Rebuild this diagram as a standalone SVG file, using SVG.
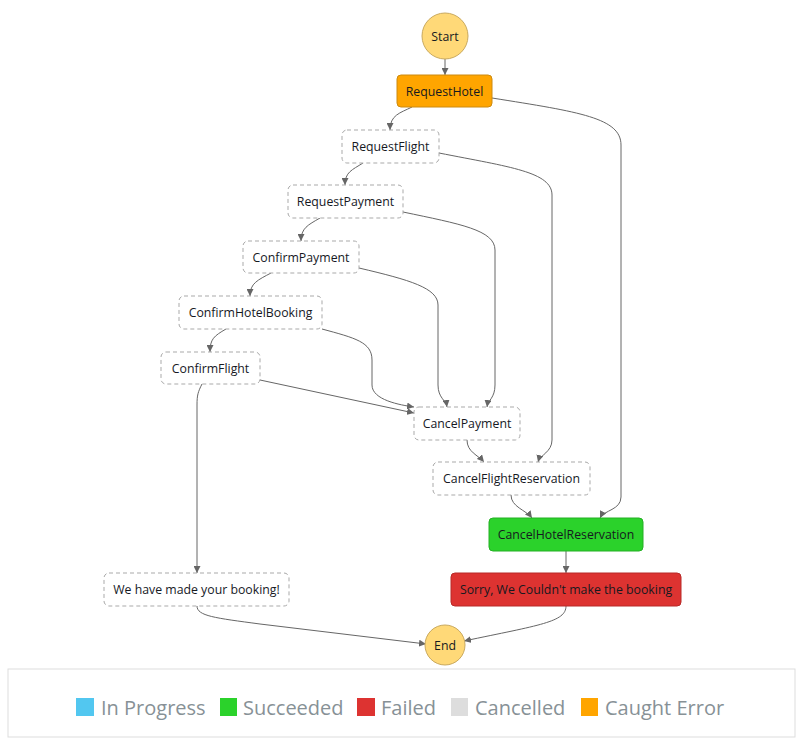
<svg xmlns="http://www.w3.org/2000/svg" width="806" height="749" viewBox="0 0 806 749">
  <style>
    .lbl { font-family: "Open Sans", "Noto Sans", sans-serif; font-size: 12.3px; fill: #16191f; text-anchor: middle; dominant-baseline: central; }
    .term { fill: #ffd978; stroke: #c9a95e; stroke-width: 1; }
    .task { fill: #ffffff; stroke: #a9a9a9; stroke-width: 1; stroke-dasharray: 4 3; }
    .caught { fill: #ffa500; stroke: #cc8a10; stroke-width: 1; }
    .ok { fill: #2bd22b; stroke: #25b025; stroke-width: 1; }
    .fail { fill: #dd3331; stroke: #b82a28; stroke-width: 1; }
    .edge { fill: none; stroke: #666666; stroke-width: 1; marker-end: url(#arrow); }
    .legend-text { font-family: "Open Sans", "Noto Sans", sans-serif; font-size: 20px; fill: #879196; }
  </style>
  <defs>
    <marker id="arrow" viewBox="0 0 10 10" refX="10" refY="5" markerWidth="7" markerHeight="7" markerUnits="userSpaceOnUse" orient="auto">
      <path d="M0,0 L10,5 L0,10 z" fill="#666666"/>
    </marker>
  </defs>

  <rect width="806" height="749" fill="#ffffff"/>

  <!-- transitions -->
  <g id="connectors">
    <path class="edge" d="M445,59 L445,75"/>
    <path class="edge" d="M412,107 C400,113 390,115 390,130"/>
    <path class="edge" d="M492,98 C580,112 621,118 621,145 L621,497 C621,510 604,510 600,518"/>
    <path class="edge" d="M363,163 C352,170 345,172 345,185"/>
    <path class="edge" d="M439,153 C510,167 552,172 552,195 L552,440 C552,452 540,455 538,462"/>
    <path class="edge" d="M320,218 C308,225 301,228 301,241"/>
    <path class="edge" d="M403,212 C460,224 495,230 495,250 L495,385 C495,398 488,400 487,407"/>
    <path class="edge" d="M271,273 C258,280 250,283 250,296"/>
    <path class="edge" d="M359,268 C410,280 438,288 438,305 L438,385 C438,398 446,400 447,407"/>
    <path class="edge" d="M226,329 C214,336 210,339 210,352"/>
    <path class="edge" d="M322,329 C355,338 372,342 372,360 L372,385 C372,400 400,405 414,407"/>
    <path class="edge" d="M260,380 L414,413"/>
    <path class="edge" d="M202,384 C198,392 197,395 197,405 L197,573"/>
    <path class="edge" d="M467,440 C467,452 478,455 484,462"/>
    <path class="edge" d="M511,495 C511,507 526,510 532,518"/>
    <path class="edge" d="M566,551 L566,573"/>
    <path class="edge" d="M197,606 C197,616 215,618 260,624 L426,644"/>
    <path class="edge" d="M566,606 C566,622 540,625 464,641"/>
  </g>

  <!-- states -->
  <g id="start">
    <circle class="term" cx="445" cy="36" r="23"/>
    <text class="lbl" x="445" y="36">Start</text>
  </g>
  <g id="request-hotel">
    <rect class="caught" x="397" y="75" width="95" height="32" rx="4"/>
    <text class="lbl" x="444.5" y="91">RequestHotel</text>
  </g>
  <g id="request-flight">
    <rect class="task" x="342" y="130" width="97" height="33" rx="5"/>
    <text class="lbl" x="390.5" y="146.5">RequestFlight</text>
  </g>
  <g id="request-payment">
    <rect class="task" x="288" y="185" width="115" height="33" rx="5"/>
    <text class="lbl" x="345.5" y="201.5">RequestPayment</text>
  </g>
  <g id="confirm-payment">
    <rect class="task" x="243" y="241" width="116" height="32" rx="5"/>
    <text class="lbl" x="301" y="257">ConfirmPayment</text>
  </g>
  <g id="confirm-hotel-booking">
    <rect class="task" x="179" y="296" width="143" height="33" rx="5"/>
    <text class="lbl" x="250.5" y="312.5">ConfirmHotelBooking</text>
  </g>
  <g id="confirm-flight">
    <rect class="task" x="161" y="352" width="99" height="32" rx="5"/>
    <text class="lbl" x="210.5" y="368">ConfirmFlight</text>
  </g>
  <g id="cancel-payment">
    <rect class="task" x="414" y="407" width="106" height="33" rx="5"/>
    <text class="lbl" x="467" y="423.5">CancelPayment</text>
  </g>
  <g id="cancel-flight-reservation">
    <rect class="task" x="433" y="462" width="157" height="33" rx="5"/>
    <text class="lbl" x="511.5" y="478.5">CancelFlightReservation</text>
  </g>
  <g id="cancel-hotel-reservation">
    <rect class="ok" x="489" y="518" width="154" height="33" rx="4"/>
    <text class="lbl" x="566" y="534.5">CancelHotelReservation</text>
  </g>
  <g id="booking-made">
    <rect class="task" x="104" y="573" width="185" height="33" rx="5"/>
    <text class="lbl" x="196.5" y="589.5">We have made your booking!</text>
  </g>
  <g id="booking-failed">
    <rect class="fail" x="451" y="573" width="230" height="33" rx="4"/>
    <text class="lbl" x="566" y="589.5">Sorry, We Couldn't make the booking</text>
  </g>
  <g id="end">
    <circle class="term" cx="445" cy="645" r="20"/>
    <text class="lbl" x="445" y="645">End</text>
  </g>

  <!-- status key -->
  <g id="legend">
    <rect x="8" y="669" width="787" height="68" fill="#ffffff" stroke="#dddddd" stroke-width="1"/>
    <rect x="76" y="698" width="18" height="18" fill="#52c7f0"/>
    <text class="legend-text" x="101" y="715">In Progress</text>
    <rect x="220" y="698" width="17" height="18" fill="#2bd22b"/>
    <text class="legend-text" x="243" y="715">Succeeded</text>
    <rect x="357" y="698" width="18" height="18" fill="#dd3331"/>
    <text class="legend-text" x="381" y="715">Failed</text>
    <rect x="451" y="698" width="17" height="18" fill="#dddddd"/>
    <text class="legend-text" x="475" y="715">Cancelled</text>
    <rect x="581" y="698" width="17" height="18" fill="#ffa500"/>
    <text class="legend-text" x="605" y="715">Caught Error</text>
  </g>
</svg>
